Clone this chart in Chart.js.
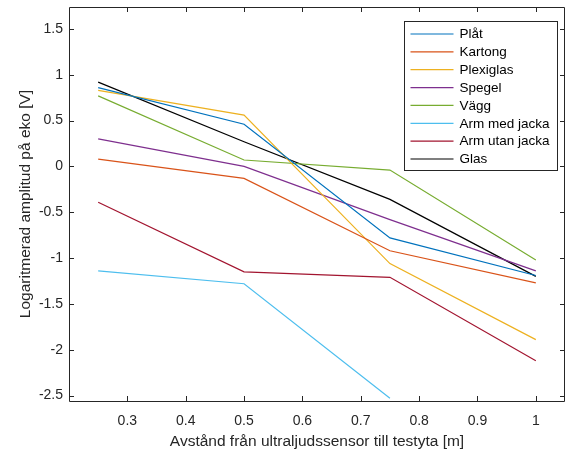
<!DOCTYPE html>
<html>
<head>
<meta charset="utf-8">
<script src="https://cdn.jsdelivr.net/npm/chart.js@4"></script>
<style>
  html, body { margin: 0; padding: 0; background: #fff; }
  #wrap { width: 568px; height: 454px; }
</style>
</head>
<body>
<div id="wrap"><canvas id="ekoChart" width="568" height="454"></canvas></div>
<script>
// Avstånd (m) och logaritmerad amplitud (V) per material
const avstand = [0.25, 0.5, 0.75, 1];
const plat = [0.86, 0.46, -0.78, -1.19];
const kartong = [0.08, -0.13, -0.92, -1.27];
const plexiglas = [0.83, 0.56, -1.06, -1.89];
const spegel = [0.30, 0.00, -0.58, -1.14];
const vagg = [0.77, 0.07, -0.04, -1.02];
const armMedJacka = [-1.14, -1.28, -2.53];
const armUtanJacka = [-0.39, -1.15, -1.21, -2.12];
const glas = [0.92, 0.27, -0.36, -1.20];

const xTicks = [0.3, 0.4, 0.5, 0.6, 0.7, 0.8, 0.9, 1];
const yTicks = [-2.5, -2, -1.5, -1, -0.5, 0, 0.5, 1, 1.5];

const serier = [
    { label: 'Plåt', values: plat, color: '#0072BD' },
    { label: 'Kartong', values: kartong, color: '#D95319' },
    { label: 'Plexiglas', values: plexiglas, color: '#EDB120' },
    { label: 'Spegel', values: spegel, color: '#7E2F8E' },
    { label: 'Vägg', values: vagg, color: '#77AC30' },
    { label: 'Arm med jacka', values: armMedJacka, color: '#4DBEEE' },
    { label: 'Arm utan jacka', values: armUtanJacka, color: '#A2142F' },
    { label: 'Glas', values: glas, color: '#000000' }
];

const FONT = '"Liberation Sans", Arial, Helvetica, sans-serif';
const AXIS = '#262626';

// Ram runt axlarna med inåtvända tickmarkeringar (som i MATLAB)
const boxPlugin = {
    id: 'boxPlugin',
    afterDatasetsDraw(chart) {
        const { ctx, chartArea: a, scales: { x, y } } = chart;
        const L = 5;
        ctx.save();
        ctx.strokeStyle = AXIS;
        ctx.lineWidth = 1;
        ctx.beginPath();
        ctx.rect(Math.round(a.left) + 0.5, Math.round(a.top) + 0.5,
            Math.round(a.right - a.left) - 1, Math.round(a.bottom - a.top));
        xTicks.forEach(v => {
            const px = Math.round(x.getPixelForValue(v)) + 0.5;
            ctx.moveTo(px, a.bottom); ctx.lineTo(px, a.bottom - L);
            ctx.moveTo(px, a.top); ctx.lineTo(px, a.top + L);
        });
        yTicks.forEach(v => {
            const py = Math.round(y.getPixelForValue(v)) + 0.5;
            ctx.moveTo(a.left, py); ctx.lineTo(a.left + L, py);
            ctx.moveTo(a.right, py); ctx.lineTo(a.right - L, py);
        });
        ctx.stroke();
        ctx.restore();
    }
};

// Legend inne i diagrammet, uppe till höger
const legendPlugin = {
    id: 'legendPlugin',
    afterDraw(chart) {
        const { ctx, chartArea: a } = chart;
        const w = 153, h = 149;
        const left = Math.round(a.right - 8 - w) + 0.5;
        const top = Math.round(a.top + 14) + 0.5;
        ctx.save();
        ctx.fillStyle = '#fff';
        ctx.fillRect(left, top, w, h);
        ctx.strokeStyle = AXIS;
        ctx.lineWidth = 1;
        ctx.strokeRect(left, top, w, h);
        ctx.font = '13.5px ' + FONT;
        ctx.textBaseline = 'middle';
        chart.data.datasets.forEach((ds, i) => {
            const cy = top + 12.5 + i * 17.86;
            ctx.strokeStyle = ds.borderColor;
            ctx.lineWidth = 1.2;
            ctx.beginPath();
            ctx.moveTo(left + 6, cy);
            ctx.lineTo(left + 49, cy);
            ctx.stroke();
            ctx.fillStyle = '#000';
            ctx.fillText(ds.label, left + 55, cy + 0.5);
        });
        ctx.restore();
    }
};

const ctx = document.getElementById('ekoChart').getContext('2d');
const chart = new Chart(ctx, {
    type: 'line',
    data: {
        datasets: serier.map(s => ({
            label: s.label,
            data: s.values.map((v, i) => ({ x: avstand[i], y: v })),
            borderColor: s.color,
            backgroundColor: s.color,
            borderWidth: 1.2,
            pointRadius: 0,
            tension: 0,
            fill: false
        }))
    },
    options: {
        responsive: false,
        animation: false,
        layout: { padding: { left: 0, top: 7, right: 3, bottom: 0 } },
        plugins: {
            legend: { display: false },
            tooltip: { enabled: false }
        },
        scales: {
            x: {
                type: 'linear',
                min: 0.2,
                max: 1.05,
                afterBuildTicks: scale => { scale.ticks = xTicks.map(v => ({ value: v })); },
                afterFit: scale => {
                    scale.height = 53;
                    scale.paddingLeft = 0;
                    scale.paddingRight = 0;
                },
                grid: { display: false, drawTicks: false },
                border: { display: false },
                ticks: {
                    color: AXIS,
                    font: { family: FONT, size: 14 },
                    padding: 12,
                    maxRotation: 0,
                    callback: v => String(+v.toFixed(2))
                },
                title: {
                    display: true,
                    text: 'Avstånd från ultraljudssensor till testyta [m]',
                    color: AXIS,
                    font: { family: FONT, size: 15.5 },
                    padding: { top: 0, bottom: 3 }
                }
            },
            y: {
                min: -2.56,
                max: 1.74,
                afterBuildTicks: scale => { scale.ticks = yTicks.map(v => ({ value: v })); },
                afterFit: scale => {
                    scale.width = 69;
                    scale.paddingTop = 0;
                    scale.paddingBottom = 0;
                },
                grid: { display: false, drawTicks: false },
                border: { display: false },
                ticks: {
                    color: AXIS,
                    font: { family: FONT, size: 14 },
                    padding: 6,
                    callback: v => String(+v.toFixed(2))
                },
                title: {
                    display: true,
                    text: 'Logaritmerad amplitud på eko [V]',
                    color: AXIS,
                    font: { family: FONT, size: 15.5 },
                    padding: { top: 16, bottom: 0 }
                }
            }
        }
    },
    plugins: [boxPlugin, legendPlugin]
});
</script>
</body>
</html>
